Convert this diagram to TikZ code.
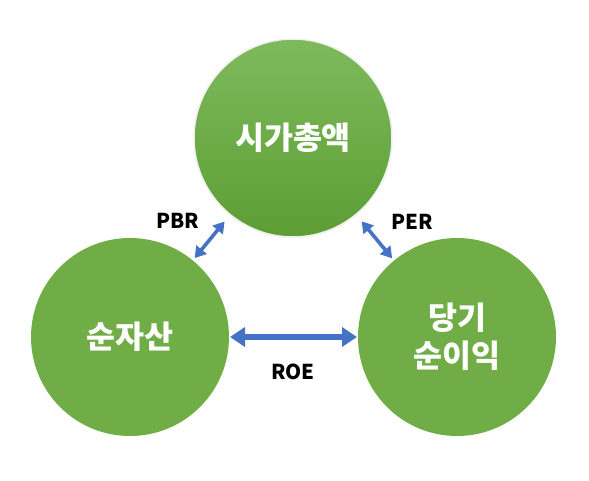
\documentclass[tikz,border=0pt]{standalone}
\usepackage{fontspec}
\setmainfont{Noto Sans CJK KR}
\usetikzlibrary{arrows.meta,shadows}
\definecolor{cgreen}{HTML}{70AD47}
\definecolor{ctop}{RGB}{126,186,92}
\definecolor{cbot}{RGB}{92,158,52}
\definecolor{cblue}{HTML}{4472C4}
\begin{document}
\begin{tikzpicture}[x=1pt,y=-1pt,
  ball/.style={circle,minimum size=198pt,inner sep=0pt,outer sep=0pt,
    text=white,font=\fontsize{31.5}{38}\selectfont\bfseries,align=center},
  lbl/.style={font=\fontsize{20.5}{24}\selectfont\bfseries,text=black,inner sep=0pt},
  darr/.style={draw=cblue,line width=3.6pt,{Triangle[width=13pt,length=11pt]}-{Triangle[width=13pt,length=11pt]}},
  harr/.style={draw=cblue,line width=5.5pt,{Triangle[width=19pt,length=15pt]}-{Triangle[width=19pt,length=15pt]}}]
\useasboundingbox (0,0) rectangle (589,480);
\node[ball,fill=cgreen] (left) at (130,337) {순자산};
\node[ball,fill=cgreen] (right) at (457,337) {당기\\순이익};
\node[ball,top color=ctop,bottom color=cbot,draw=white!88!gray,line width=1.5pt,
  drop shadow={opacity=0.15,shadow xshift=0pt,shadow yshift=-1pt}] (top) at (293,138) {시가총액};
\draw[darr,shorten <=9pt,shorten >=3pt] (top) -- (left);
\draw[darr,shorten <=9pt,shorten >=3pt] (top) -- (right);
\draw[harr,shorten <=1pt,shorten >=1pt] (left) -- (right);
\node[lbl] (pbr) at (178,221) {PBR};
\node[lbl] (per) at (412,222) {PER};
\node[lbl] (roe) at (293,372) {ROE};
\end{tikzpicture}
\end{document}
